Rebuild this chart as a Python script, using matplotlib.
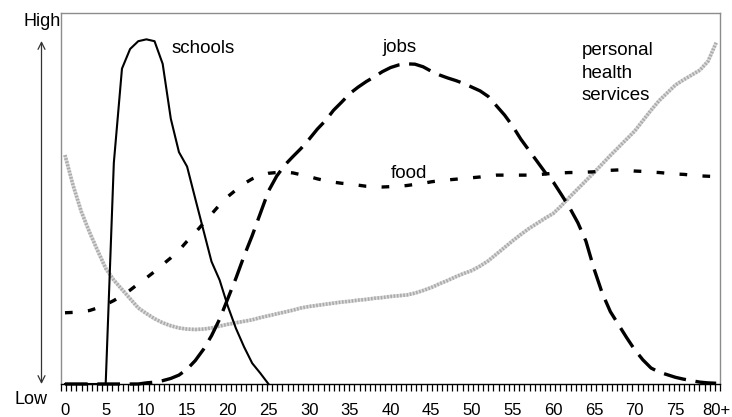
import numpy as np
import matplotlib
matplotlib.use("Agg")
import matplotlib.pyplot as plt

plt.rcParams['font.family'] = ['Liberation Sans', 'DejaVu Sans']

# ---------------- data ----------------
ages = list(range(0, 81))
school_ages = list(range(0, 26))

schools = [0, 0, 0, 0, 0, 0, 59.6, 85, 90.3, 92.4, 92.9, 92.4, 86.3, 71.5, 62.5,
           58.6, 50, 41.5, 33, 28, 21, 15, 10, 5.6, 2.9, 0]

jobs = [0, 0, 0, 0, 0, 0, 0, 0, 0, 0, 0.3, 0.5, 0.9, 1.5, 2.4, 4, 6.3, 9.3, 13, 17.5,
        23, 28.5, 34.5, 40, 46, 52, 56, 59, 61.3, 63.5, 66, 68.7, 71, 73.8, 76, 78.3,
        80, 81.5, 82.8, 84.2, 85.3, 86, 86.3, 86.2, 85.5, 84.3, 83.3, 82.5, 81.8, 81,
        80, 79, 77.5, 75, 72.5, 69.5, 66, 63, 60, 57, 54.4, 51, 47.5, 43.5, 38.5, 31,
        24.5, 19.5, 16, 12.5, 9.2, 6.5, 4.3, 3.2, 2.5, 1.8, 1.3, 0.9, 0.5, 0.3, 0.2]

food = [19.2, 19.3, 19.5, 19.8, 20.5, 21.4, 22.5, 23.8, 25.3, 27, 28.6, 30.3, 32.2,
        34, 36, 38.5, 40.8, 43.3, 45.8, 48.3, 50.5, 52.3, 54, 55.3, 56.2, 56.8, 57,
        57.1, 56.9, 56.4, 55.9, 55.3, 54.8, 54.4, 54.1, 53.9, 53.6, 53.3, 53.2, 53.1,
        53.2, 53.3, 53.5, 53.8, 54.1, 54.5, 54.8, 55, 55.2, 55.4, 55.6, 55.8, 56.1,
        56.3, 56.3, 56.3, 56.3, 56.3, 56.4, 56.6, 56.8, 56.9, 57, 57, 57.1, 57.2, 57.4,
        57.6, 57.7, 57.6, 57.4, 57.3, 57.1, 57, 56.8, 56.6, 56.5, 56.3, 56.1, 56, 55.9]

health = [61.7, 53.5, 46.5, 41, 36, 31.2, 28, 25.5, 23, 20.5, 19, 17.6, 16.5, 15.7,
          15.1, 14.8, 14.7, 14.8, 15.1, 15.6, 16.1, 16.5, 16.9, 17.3, 17.9, 18.4, 18.9,
          19.4, 19.9, 20.5, 20.9, 21.2, 21.5, 21.8, 22.1, 22.3, 22.6, 22.8, 23.1, 23.3,
          23.6, 23.8, 24.0, 24.5, 25.2, 26, 27, 27.9, 28.9, 29.8, 30.6, 31.8, 33.2, 35,
          36.8, 38.6, 40.3, 41.9, 43.3, 44.7, 46, 48.1, 50.4, 52.6, 54.8, 57, 59.3, 61.6,
          63.8, 66, 68.2, 71, 73.8, 76.4, 78.5, 80.6, 82, 83.3, 84.6, 87, 92]

tick_vals = list(range(0, 81, 5))
tick_labels = [str(v) for v in range(0, 80, 5)] + ['80+']

# ---------------- figure ----------------
W, H = 732, 417
fig = plt.figure(figsize=(W / 100, H / 100), dpi=100)
ax = fig.add_axes([61 / W, 1 - 384 / H, (720 - 61) / W, (384 - 13) / H])

xmin, xmax = -0.49, 80.47
ax.set_xlim(xmin, xmax)
ax.set_ylim(0, 100)

# health: gray textured line
ax.plot(ages, health, color='#dadada', lw=2.6, solid_capstyle='butt', clip_on=False, zorder=2)
ax.plot(ages, health, color='#ababab', lw=2.6, linestyle=(0, (0.45, 0.45)), clip_on=False, zorder=2)

# food: short dashes
ax.plot(ages, food, color='black', lw=2.4, linestyle=(0, (2.3, 4.6)),
        dash_capstyle='butt', clip_on=False, zorder=3)

# jobs: long dashes
ax.plot(ages, jobs, color='black', lw=2.4, linestyle=(0, (6.8, 2.9)),
        dash_capstyle='butt', clip_on=False, zorder=3)

# schools: solid
ax.plot(school_ages, schools, color='black', lw=1.5, clip_on=False, zorder=4)

# spines
for s in ['left', 'top', 'right']:
    ax.spines[s].set_color('#8c8c8c')
    ax.spines[s].set_linewidth(1.0)
ax.spines['bottom'].set_color('black')
ax.spines['bottom'].set_linewidth(1.0)
ax.spines['bottom'].set_zorder(5)

ax.set_yticks([])
ax.set_xticks(tick_vals)
ax.set_xticklabels(tick_labels, fontsize=12)
ax.set_xticks(np.linspace(xmin, xmax, 129), minor=True)
ax.tick_params(axis='x', which='major', length=0, pad=13.5)
ax.tick_params(axis='x', which='minor', length=5, width=0.9, color='black', direction='out')

# annotations
ax.text(13.1, 90.4, 'schools', fontsize=13.5, ha='left', va='center')
ax.text(39.0, 90.8, 'jobs', fontsize=13.5, ha='left', va='center')
ax.text(40.0, 56.7, 'food', fontsize=13.5, ha='left', va='center')
for i, line in enumerate(['personal', 'health', 'services']):
    ax.text(63.5, 89.9 - i * 6.1, line, fontsize=13.5, ha='left', va='center')

# High / Low arrow
fig.text(42 / W, 1 - 22 / H, 'High', fontsize=13, ha='center', va='center')
fig.text(31 / W, 1 - 399 / H, 'Low', fontsize=13, ha='center', va='center')
fig.add_artist(matplotlib.patches.FancyArrowPatch(
    (41.5 / W, 1 - 384 / H), (41.5 / W, 1 - 41 / H), transform=fig.transFigure,
    arrowstyle='<->,head_length=5,head_width=2.5', lw=0.9, color='#333333',
    shrinkA=0, shrinkB=0))

fig.savefig('out.png', dpi=100)
